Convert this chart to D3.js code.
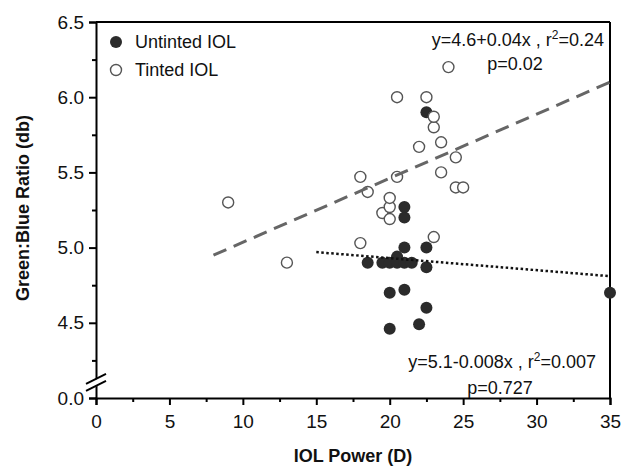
<!DOCTYPE html>
<html>
<head>
<meta charset="utf-8">
<script src="https://cdn.jsdelivr.net/npm/d3@7"></script>
<style>
  body { margin: 0; background: #fff; }
  text { font-family: "Liberation Sans", Arial, sans-serif; fill: #111; }
</style>
</head>
<body>
<div id="chart"></div>
<script>
// tinted IOL (open circles)
const tintedX = [9, 13, 18.0, 18.0, 18.5, 19.5, 20.0, 20.0, 20.0, 20.5, 20.5, 22.0, 22.5, 23.0, 23.0, 23.0, 23.5, 23.5, 24.0, 24.5, 24.5, 25.0];
const tintedY = [5.30, 4.90, 5.03, 5.47, 5.37, 5.23, 5.19, 5.27, 5.33, 5.47, 6.00, 5.67, 6.00, 5.07, 5.80, 5.87, 5.50, 5.70, 6.20, 5.40, 5.60, 5.40];

// untinted IOL (filled circles)
const untintedX = [18.5, 19.5, 20.0, 20.5, 20.5, 21.0, 21.5, 21.0, 21.0, 21.0, 22.5, 22.5, 22.5, 20.0, 21.0, 22.5, 20.0, 22.0, 35];
const untintedY = [4.90, 4.90, 4.90, 4.94, 4.90, 4.90, 4.90, 5.00, 5.20, 5.27, 5.00, 4.87, 5.90, 4.70, 4.72, 4.60, 4.46, 4.49, 4.70];

// regression lines as drawn (start, end)
const tintedFitX = [8, 35];
const tintedFitY = [4.95, 6.10];
const untintedFitX = [15, 35];
const untintedFitY = [4.97, 4.81];

const xTicks = [0, 5, 10, 15, 20, 25, 30, 35];
const yTicks = [4.0, 4.5, 5.0, 5.5, 6.0, 6.5];
const yTickLabels = ["0.0", "4.5", "5.0", "5.5", "6.0", "6.5"];

const W = 622, H = 469;
const margin = {top: 22, right: 12, bottom: 71, left: 96};
const width = W - margin.left - margin.right;
const height = H - margin.top - margin.bottom;

const svg = d3.select("#chart").append("svg")
    .attr("width", W)
    .attr("height", H);

const g = svg.append("g")
    .attr("transform", `translate(${margin.left},${margin.top})`);

const x = d3.scaleLinear().domain([0, 35]).range([0, width]);
// broken axis: the bottom of the scale stands for 0.0
const y = d3.scaleLinear().domain([4.0, 6.5]).range([height, 0]);

// frame (top + right)
g.append("line").attr("x1", 0).attr("x2", width).attr("y1", 0).attr("y2", 0)
    .attr("stroke", "#000").attr("stroke-width", 2);
g.append("line").attr("x1", width).attr("x2", width).attr("y1", 0).attr("y2", height)
    .attr("stroke", "#000").attr("stroke-width", 2);

// x axis
const xAxis = g.append("g")
    .attr("transform", `translate(0,${height})`)
    .call(d3.axisBottom(x).tickValues(xTicks).tickSize(7).tickPadding(5));
g.append("g")
    .attr("transform", `translate(0,${height})`)
    .call(d3.axisBottom(x).tickValues(d3.range(2.5, 35, 5)).tickSize(4).tickFormat(""))
    .select(".domain").remove();

// y axis
const yAxis = g.append("g")
    .call(d3.axisLeft(y).tickValues(yTicks).tickSize(7).tickPadding(5)
        .tickFormat((d, i) => yTickLabels[i]));
g.append("g")
    .call(d3.axisLeft(y).tickValues(d3.range(4.25, 6.5, 0.5)).tickSize(4).tickFormat(""))
    .select(".domain").remove();

svg.selectAll(".tick text")
    .style("font-size", "19px")
    .style("font-family", "'Liberation Sans', Arial, sans-serif")
    .attr("fill", "#111");
svg.selectAll(".domain").attr("stroke-width", 2).attr("stroke", "#000");
svg.selectAll(".tick line").attr("stroke-width", 2).attr("stroke", "#000");
xAxis.selectAll(".tick text").attr("dy", "0.95em");

// axis break marks
const bx = 0, by = y(4.12);
const brk = g.append("g");
brk.append("polygon")
    .attr("points", `${bx - 9},${by + 4} ${bx + 9},${by - 5} ${bx + 9},${by + 2} ${bx - 9},${by + 11}`)
    .attr("fill", "#fff");
[0, 7].forEach(o => {
    brk.append("line")
        .attr("x1", bx - 10).attr("y1", by + 4 + o)
        .attr("x2", bx + 10).attr("y2", by - 6 + o)
        .attr("stroke", "#000").attr("stroke-width", 2);
});

// points
const untinted = untintedX.map((v, i) => ({x: v, y: untintedY[i]}));
const tinted = tintedX.map((v, i) => ({x: v, y: tintedY[i]}));

g.selectAll(".untinted")
    .data(untinted)
    .enter()
    .append("circle")
    .attr("class", "untinted")
    .attr("cx", d => x(d.x))
    .attr("cy", d => y(d.y))
    .attr("r", 6)
    .attr("fill", "#2b2b2b");

g.selectAll(".tinted")
    .data(tinted)
    .enter()
    .append("circle")
    .attr("class", "tinted")
    .attr("cx", d => x(d.x))
    .attr("cy", d => y(d.y))
    .attr("r", 5.5)
    .attr("fill", "#fff")
    .attr("stroke", "#555")
    .attr("stroke-width", 1.4);

// fit lines
const line = d3.line().x(d => x(d[0])).y(d => y(d[1]));
g.append("path")
    .datum(tintedFitX.map((v, i) => [v, tintedFitY[i]]))
    .attr("d", line)
    .attr("fill", "none")
    .attr("stroke", "#666")
    .attr("stroke-width", 3)
    .attr("stroke-dasharray", "14,8");
g.append("path")
    .datum(untintedFitX.map((v, i) => [v, untintedFitY[i]]))
    .attr("d", line)
    .attr("fill", "none")
    .attr("stroke", "#111")
    .attr("stroke-width", 2.5)
    .attr("stroke-dasharray", "2.5,2.5");

// legend
const legend = g.append("g").attr("transform", "translate(20,20)");
legend.append("circle").attr("cx", 0).attr("cy", 0).attr("r", 6).attr("fill", "#2b2b2b");
legend.append("text").attr("x", 19).attr("y", 6).style("font-size", "18px").text("Untinted IOL");
legend.append("circle").attr("cx", 0).attr("cy", 28).attr("r", 5.5)
    .attr("fill", "#fff").attr("stroke", "#555").attr("stroke-width", 1.4);
legend.append("text").attr("x", 19).attr("y", 34).style("font-size", "18px").text("Tinted IOL");

// annotations
const ann1 = g.append("text").attr("x", width - 6).attr("y", 24)
    .attr("text-anchor", "end").style("font-size", "18px");
ann1.append("tspan").text("y=4.6+0.04x , r");
ann1.append("tspan").attr("dy", -7).style("font-size", "12px").text("2");
ann1.append("tspan").attr("dy", 7).text("=0.24");
g.append("text").attr("x", width - 95).attr("y", 48)
    .attr("text-anchor", "middle").style("font-size", "18px").text("p=0.02");

const ann2 = g.append("text").attr("x", width - 14).attr("y", 346)
    .attr("text-anchor", "end").style("font-size", "18px");
ann2.append("tspan").text("y=5.1-0.008x , r");
ann2.append("tspan").attr("dy", -7).style("font-size", "12px").text("2");
ann2.append("tspan").attr("dy", 7).text("=0.007");
g.append("text").attr("x", width - 110).attr("y", 372)
    .attr("text-anchor", "middle").style("font-size", "18px").text("p=0.727");

// axis titles
svg.append("text")
    .attr("x", margin.left + width / 2)
    .attr("y", 462)
    .attr("text-anchor", "middle")
    .style("font-size", "18px")
    .style("font-weight", "bold")
    .text("IOL Power (D)");
svg.append("text")
    .attr("transform", `translate(29,${margin.top + height / 2 - 2}) rotate(-90)`)
    .attr("text-anchor", "middle")
    .style("font-size", "18px")
    .style("font-weight", "bold")
    .text("Green:Blue Ratio (db)");
</script>
</body>
</html>
